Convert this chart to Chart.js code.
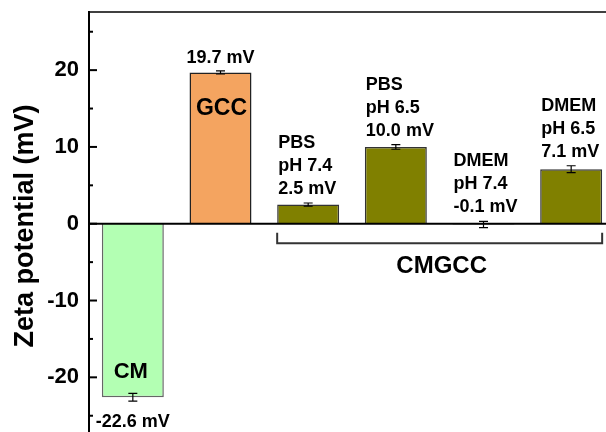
<!DOCTYPE html>
<html>
<head>
<meta charset="utf-8">
<script src="https://cdn.jsdelivr.net/npm/chart.js@4"></script>
<style>
  html, body { margin: 0; padding: 0; background: #fff; width: 606px; height: 432px; overflow: hidden; }
  canvas { display: block; }
</style>
</head>
<body>
<canvas id="myChart" width="620" height="445"></canvas>
<script>
const categories = ['CM', 'GCC', 'PBS pH 7.4', 'PBS pH 6.5', 'DMEM pH 7.4', 'DMEM pH 6.5'];
const zeta = [-22.6, 19.7, 2.5, 10.0, -0.1, 7.1];
const zetaErr = [0.5, 0.2, 0.2, 0.3, 0.4, 0.45];
const noteLines = [
  ['-22.6 mV'],
  ['19.7 mV'],
  ['PBS', 'pH 7.4', '2.5 mV'],
  ['PBS', 'pH 6.5', '10.0 mV'],
  ['DMEM', 'pH 7.4', '-0.1 mV'],
  ['DMEM', 'pH 6.5', '7.1 mV'],
];
const yTicks = [-20, -10, 0, 10, 20];
const yMinorTicks = [-25, -15, -5, 5, 15, 25];
const groupLabel = 'CMGCC';
const barColors = ['#b3ffb3', '#f4a460', '#808000', '#808000', '#808000', '#808000'];
const barBorders = ['#666666', '#222222', '#333333', '#333333', '#333333', '#333333'];

const FONT = '"Liberation Sans", Arial, sans-serif';

const extras = {
  id: 'extras',
  afterDatasetsDraw(chart) {
    const ctx = chart.ctx;
    const area = chart.chartArea;
    const y = chart.scales.y;
    const meta = chart.getDatasetMeta(0);
    const zero = y.getPixelForValue(0);

    ctx.save();
    ctx.strokeStyle = '#000';

    // top frame line
    ctx.lineWidth = 1.5;
    ctx.beginPath();
    ctx.moveTo(area.left, area.top);
    ctx.lineTo(area.right, area.top);
    ctx.stroke();

    // zero line
    ctx.lineWidth = 2;
    ctx.beginPath();
    ctx.moveTo(area.left, zero);
    ctx.lineTo(area.right, zero);
    ctx.stroke();

    // inward ticks
    ctx.lineWidth = 2;
    yTicks.forEach(v => {
      const p = y.getPixelForValue(v);
      ctx.beginPath();
      ctx.moveTo(area.left, p);
      ctx.lineTo(area.left + 8, p);
      ctx.stroke();
    });
    yMinorTicks.forEach(v => {
      const p = y.getPixelForValue(v);
      ctx.beginPath();
      ctx.moveTo(area.left, p);
      ctx.lineTo(area.left + 4, p);
      ctx.stroke();
    });

    // error bars
    ctx.lineWidth = 1.2;
    meta.data.forEach((bar, i) => {
      const hi = y.getPixelForValue(zeta[i] + zetaErr[i]);
      const lo = y.getPixelForValue(zeta[i] - zetaErr[i]);
      ctx.beginPath();
      ctx.moveTo(bar.x, hi); ctx.lineTo(bar.x, lo);
      ctx.moveTo(bar.x - 4.5, hi); ctx.lineTo(bar.x + 4.5, hi);
      ctx.moveTo(bar.x - 4.5, lo); ctx.lineTo(bar.x + 4.5, lo);
      ctx.stroke();
    });

    ctx.fillStyle = '#000';
    // CM
    const cm = meta.data[0];
    const cmBottom = y.getPixelForValue(zeta[0]);
    ctx.textAlign = 'center';
    ctx.font = 'bold 22px ' + FONT;
    ctx.fillText(categories[0], cm.x - 2, cmBottom - 19);
    ctx.font = 'bold 18px ' + FONT;
    ctx.fillText(noteLines[0][0], cm.x, cmBottom + 30);

    // GCC
    const gcc = meta.data[1];
    const gccTop = y.getPixelForValue(zeta[1]);
    ctx.font = 'bold 18px ' + FONT;
    ctx.fillText(noteLines[1][0], gcc.x, gccTop - 9);
    ctx.font = 'bold 23px ' + FONT;
    ctx.fillText(categories[1], gcc.x + 1, gccTop + 43);

    // CMGCC notes
    ctx.textAlign = 'left';
    ctx.font = 'bold 18px ' + FONT;
    for (let i = 2; i < meta.data.length; i++) {
      const bar = meta.data[i];
      const left = bar.x - bar.width / 2;
      const top = Math.min(y.getPixelForValue(zeta[i] + zetaErr[i]), zero);
      const lines = noteLines[i];
      lines.forEach((t, k) => {
        ctx.fillText(t, left + 1, top - 9 - (lines.length - 1 - k) * 23);
      });
    }

    // bracket
    const b0 = meta.data[2], b1 = meta.data[5];
    const bl = b0.x - b0.width / 2, br = b1.x + b1.width / 2;
    ctx.strokeStyle = '#333';
    ctx.lineWidth = 2;
    ctx.beginPath();
    ctx.moveTo(bl, zero + 9);
    ctx.lineTo(bl, zero + 19.5);
    ctx.lineTo(br, zero + 19.5);
    ctx.lineTo(br, zero + 9);
    ctx.stroke();

    ctx.textAlign = 'center';
    ctx.font = 'bold 24px ' + FONT;
    ctx.fillText(groupLabel, (bl + br) / 2 + 2, zero + 49);

    ctx.restore();
  }
};

new Chart(document.getElementById('myChart'), {
  type: 'bar',
  data: {
    labels: categories,
    datasets: [{
      data: zeta,
      backgroundColor: barColors,
      borderColor: barBorders,
      borderWidth: 1.5,
      categoryPercentage: 1,
      barPercentage: 0.707,
    }],
  },
  options: {
    responsive: false,
    animation: false,
    devicePixelRatio: 1,
    layout: { padding: { top: 12, right: 5, bottom: 5, left: 0 } },
    plugins: { legend: { display: false }, tooltip: { enabled: false } },
    scales: {
      x: { display: false },
      y: {
        min: -28.16,
        max: 27.57,
        afterBuildTicks: (scale) => { scale.ticks = yTicks.map(v => ({ value: v })); },
        afterFit: (scale) => {
          scale.width = 89;
          scale.paddingTop = 0;
          scale.paddingBottom = 0;
        },
        grid: { display: false, drawTicks: false },
        border: { display: true, color: '#000', width: 2 },
        ticks: {
          padding: 10,
          color: '#000',
          font: { family: FONT, size: 22, weight: 'bold' },
        },
        title: {
          display: true,
          text: 'Zeta potential (mV)',
          color: '#000',
          padding: { top: 12, bottom: 0 },
          font: { family: FONT, size: 27, weight: 'bold', lineHeight: 1 },
        },
      },
    },
  },
  plugins: [extras],
});
</script>
</body>
</html>
